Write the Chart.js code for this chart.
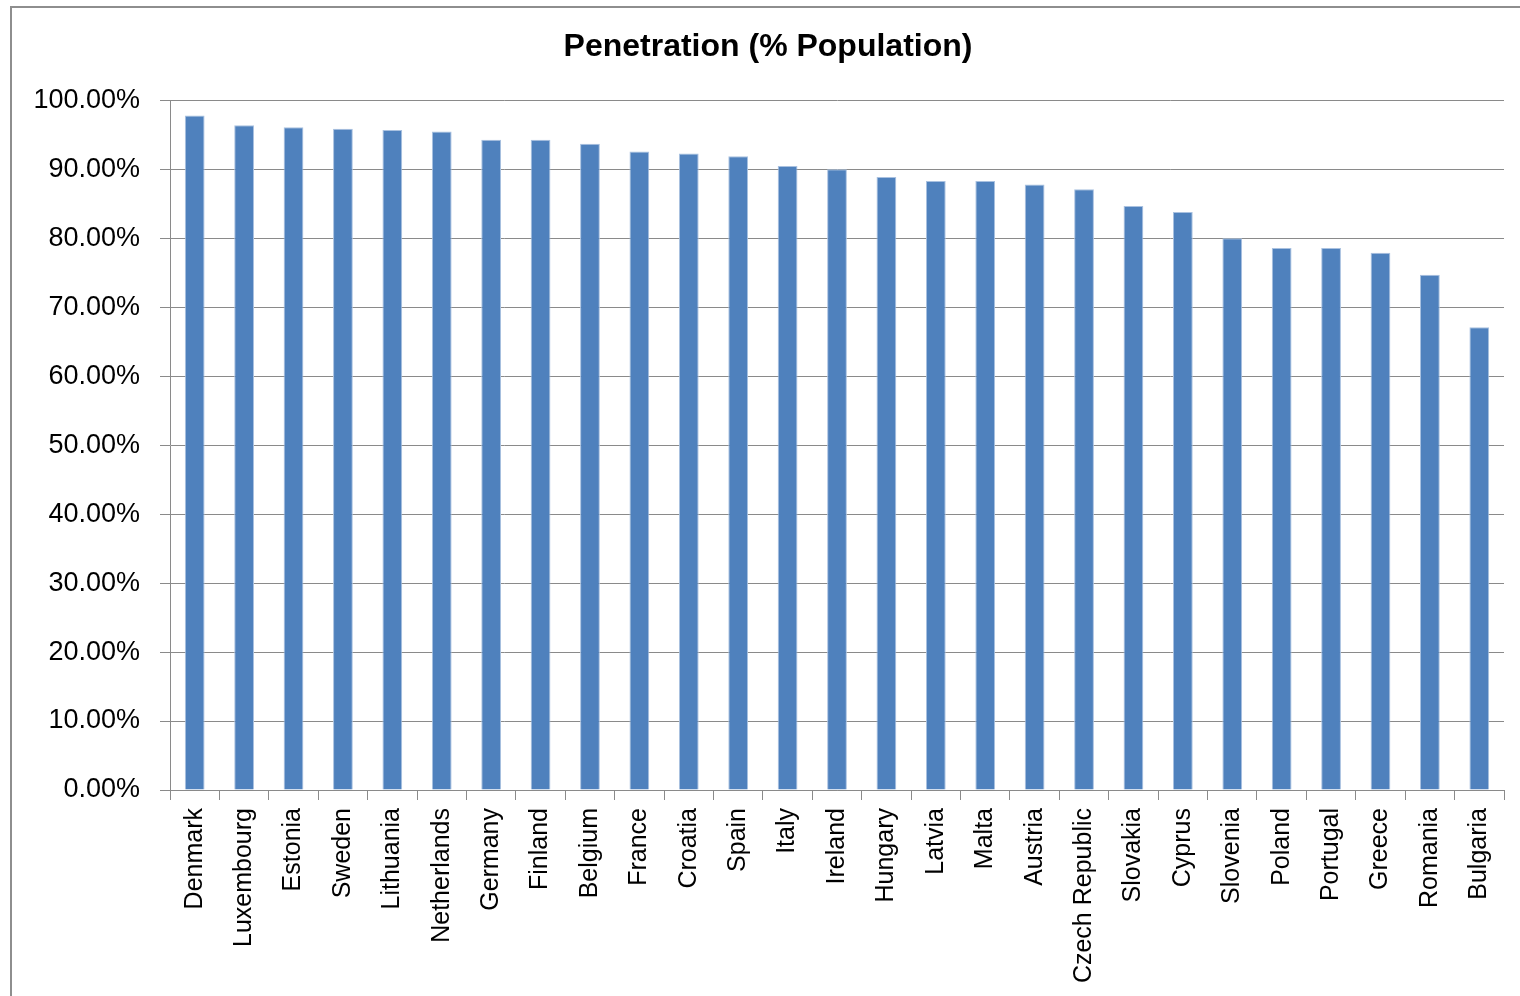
<!DOCTYPE html>
<html>
<head>
<meta charset="utf-8">
<script src="https://cdn.jsdelivr.net/npm/chart.js@4/dist/chart.umd.min.js"></script>
<style>
  body { margin: 0; background: #fff; }
  #frame { position: absolute; left: 10px; top: 6px; width: 1530px; height: 1010px;
           border-left: 2px solid #8e8e8e; border-top: 2px solid #8e8e8e; }
  #wrap { position: absolute; left: 0; top: 0; width: 1520px; height: 996px; }
</style>
</head>
<body>
<div id="frame"></div>
<div id="wrap"><canvas id="myChart" width="1520" height="996"></canvas></div>
<script>
// paises e valores
var countries = ['Denmark', 'Luxembourg', 'Estonia', 'Sweden', 'Lithuania', 'Netherlands', 'Germany',
    'Finland', 'Belgium', 'France', 'Croatia', 'Spain', 'Italy', 'Ireland', 'Hungary', 'Latvia',
    'Malta', 'Austria', 'Czech Republic', 'Slovakia', 'Cyprus', 'Slovenia', 'Poland', 'Portugal',
    'Greece', 'Romania', 'Bulgaria'];
var penetration = [97.8, 96.4, 96.1, 95.9, 95.7, 95.5, 94.3, 94.3, 93.7, 92.6, 92.3, 91.9, 90.5,
    90.0, 88.9, 88.3, 88.3, 87.8, 87.1, 84.7, 83.8, 80.0, 78.6, 78.6, 77.9, 74.7, 67.1];
var yTicks = [0, 10, 20, 30, 40, 50, 60, 70, 80, 90, 100];

var font = "'Liberation Sans', Arial, sans-serif";
var ctx = document.getElementById('myChart').getContext('2d');

var myChart = new Chart(ctx, {
    type: 'bar',
    data: {
        labels: countries,
        datasets: [{
            label: 'Penetration (% Population)',
            data: penetration,
            backgroundColor: '#4F81BD',
            borderColor: '#A9C1E0',
            borderWidth: 1,
            barPercentage: 0.8,
            categoryPercentage: 0.5
        }]
    },
    options: {
        responsive: false,
        animation: false,
        layout: { padding: { left: 32, right: 16, top: 0, bottom: 0 } },
        plugins: {
            legend: { display: false },
            tooltip: { enabled: false },
            title: {
                display: true,
                text: 'Penetration (% Population)',
                color: '#000',
                font: { family: font, size: 32, weight: 'bold' },
                padding: { top: 28, bottom: 34 }
            }
        },
        scales: {
            x: {
                grid: { drawOnChartArea: false, drawTicks: true, tickLength: 10, color: '#8a8a8a', offset: true },
                border: { color: '#8a8a8a', width: 1 },
                ticks: {
                    color: '#000',
                    font: { family: font, size: 25 },
                    minRotation: 90, maxRotation: 90,
                    autoSkip: false,
                    padding: 8
                },
                afterFit: function (scale) { scale.height = 206; }
            },
            y: {
                min: 0,
                max: 100,
                afterBuildTicks: function (scale) {
                    scale.ticks = yTicks.map(function (v) { return { value: v }; });
                },
                grid: { color: '#8a8a8a', tickLength: 10 },
                border: { color: '#8a8a8a', width: 1 },
                ticks: {
                    color: '#000',
                    font: { family: font, size: 27 },
                    padding: 20,
                    callback: function (v) { return v.toFixed(2) + '%'; }
                },
                afterFit: function (scale) { scale.width = 138; }
            }
        }
    }
});
</script>
</body>
</html>
